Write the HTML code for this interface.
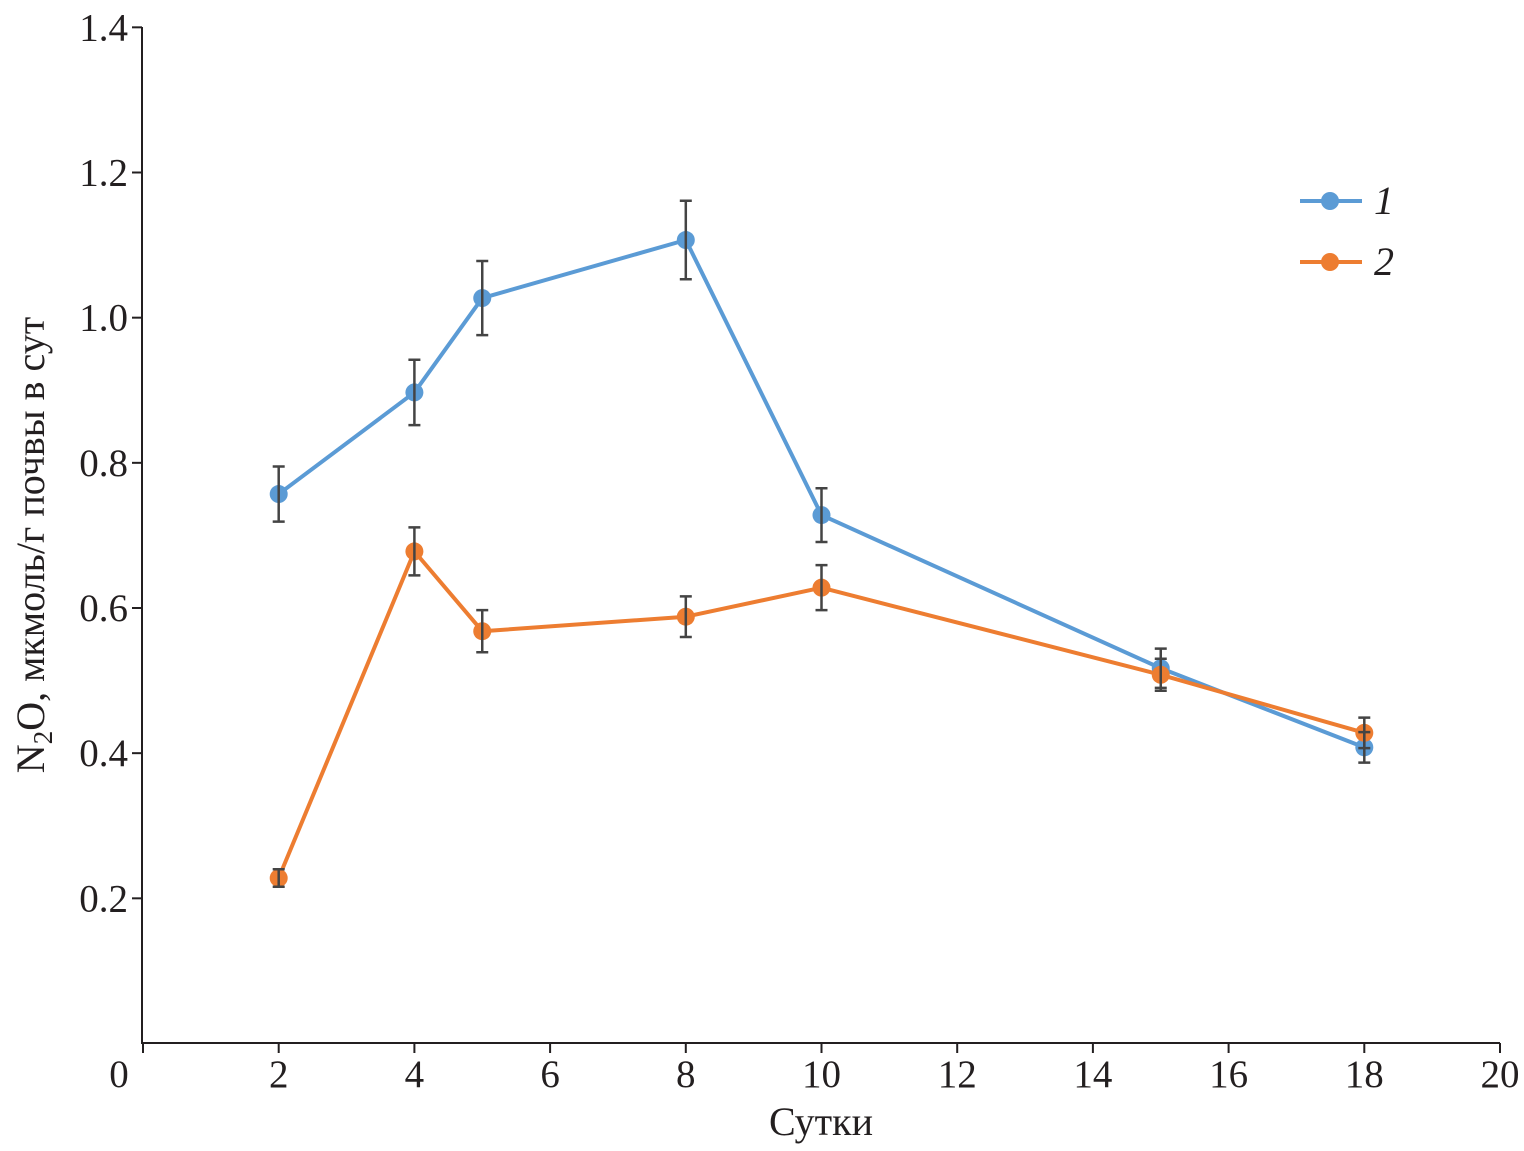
<!DOCTYPE html>
<html><head><meta charset="utf-8">
<style>
html,body{margin:0;padding:0;background:#fff;}
svg{display:block;font-family:"Liberation Serif",serif;}
</style></head>
<body>
<svg id="chart" width="1524" height="1151" viewBox="0 0 1524 1151" xmlns="http://www.w3.org/2000/svg">
<g id="axes"></g>
<g id="series"></g>
<g id="legend"></g>
<text x="821" y="1135" font-size="40" text-anchor="middle" fill="#231f20">Сутки</text>
<text transform="translate(44,545) rotate(-90)" font-size="40" text-anchor="middle" fill="#231f20">N<tspan font-size="27" dy="8">2</tspan><tspan dy="-8">O, мкмоль/г почвы в сут</tspan></text>
</svg>
<script>
const days=[2,4,5,8,10,15,18];
const s1=[0.757,0.897,1.027,1.107,0.728,0.517,0.408];
const e1=[0.038,0.045,0.051,0.054,0.037,0.027,0.021];
const s2=[0.228,0.678,0.568,0.588,0.628,0.508,0.428];
const e2=[0.012,0.033,0.029,0.028,0.031,0.022,0.021];
const xTicks=[0,2,4,6,8,10,12,14,16,18,20];
const yTicks=[0.2,0.4,0.6,0.8,1.0,1.2,1.4];
const seriesNames=["1","2"];
const colors=["#5b9bd5","#ed7d31"];
const NS="http://www.w3.org/2000/svg";
const X=v=>143+v*67.85;
const Y=v=>1043.5-v*(871/1.2);
function mk(p,tag,at){const e=document.createElementNS(NS,tag);for(const k in at)e.setAttribute(k,at[k]);p.appendChild(e);return e;}
const ax=document.getElementById('axes');
let l=mk(ax,'line',{x1:142,y1:27,x2:142,y2:1043,stroke:'#231f20','stroke-width':2});


l=mk(ax,'line',{x1:141,y1:1043,x2:X(20),y2:1043,stroke:'#231f20','stroke-width':2});


xTicks.forEach(t=>{
  const tk=mk(ax,'line',{x1:X(t),y1:1043,x2:X(t),y2:1053,stroke:'#231f20','stroke-width':2});
  
  
  const tx=mk(ax,'text',{x:t===0?X(t)-24:X(t),y:1087,'font-size':39,'text-anchor':'middle',fill:'#231f20'});
  tx.textContent=String(t);
  
  
});
yTicks.forEach(t=>{
  const tk=mk(ax,'line',{x1:132,y1:Y(t),x2:142,y2:Y(t),stroke:'#231f20','stroke-width':2});
  
  
  const tx=mk(ax,'text',{x:128,y:Y(t)+13,'font-size':39,'text-anchor':'end',fill:'#231f20'});
  tx.textContent=t.toFixed(1);
  
  
});
const sg=document.getElementById('series');
[[s1,e1],[s2,e2]].forEach(([vals,errs],si)=>{
  const g=mk(sg,'g',{});
  
  
  const pl=mk(g,'polyline',{points:days.map((d,i)=>X(d)+','+Y(vals[i])).join(' '),fill:'none',stroke:colors[si],'stroke-width':4,'stroke-linejoin':'round'});
  
  
  days.forEach((d,i)=>{
    const p=mk(g,'circle',{cx:X(d),cy:Y(vals[i]),r:9,fill:colors[si]});
    
    
  });
});
[[s1,e1],[s2,e2]].forEach(([vals,errs],si)=>{
  days.forEach((d,i)=>{
    const eb=mk(sg,'path',{d:`M${X(d)-6},${Y(vals[i]+errs[i])}h12M${X(d)},${Y(vals[i]+errs[i])}V${Y(vals[i]-errs[i])}M${X(d)-6},${Y(vals[i]-errs[i])}h12`,stroke:'#444','stroke-width':2.5,fill:'none'});
    
    
  });
});
const lg=document.getElementById('legend');
seriesNames.forEach((n,i)=>{
  const y=201+i*61;
  const g=mk(lg,'g',{});
  
  
  mk(g,'line',{x1:1300,y1:y,x2:1362,y2:y,stroke:colors[i],'stroke-width':4});
  mk(g,'circle',{cx:1330,cy:y,r:9,fill:colors[i]});
  const t=mk(g,'text',{x:1374,y:y+13,'font-size':40,'font-style':'italic',fill:'#231f20'});
  t.textContent=n;
});
</script>
</body></html>
